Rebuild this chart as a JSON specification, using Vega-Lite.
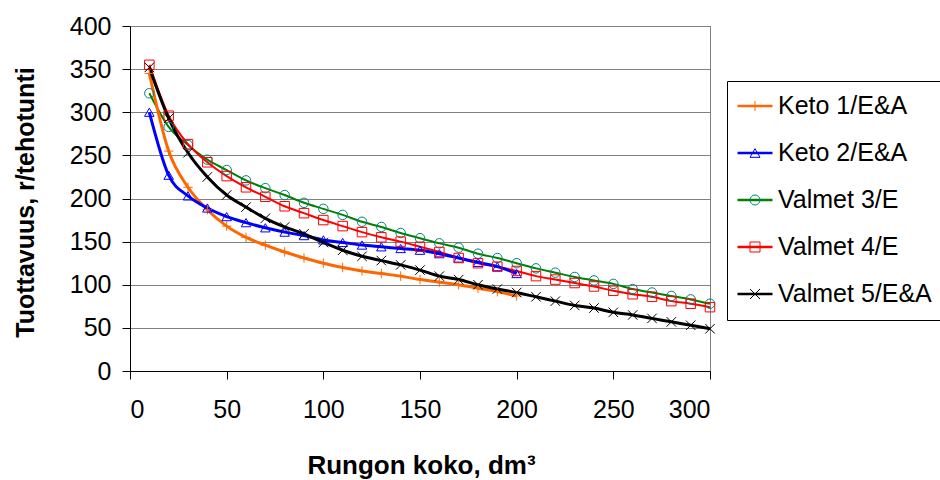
{
  "$schema": "https://vega.github.io/schema/vega-lite/v6.json",
  "width": 580,
  "height": 345,
  "autosize": "none",
  "padding": {"left": 130, "top": 26, "right": 230, "bottom": 109},
  "background": "white",
  "config": {
    "font": "Liberation Sans",
    "view": {"stroke": "#808080", "strokeWidth": 1},
    "axis": {
      "labelFont": "Liberation Sans",
      "labelFontSize": 25,
      "labelColor": "#000000",
      "titleFont": "Liberation Sans",
      "titleFontSize": 25,
      "titleFontWeight": "bold",
      "titleColor": "#000000",
      "domainColor": "#000000",
      "tickColor": "#000000",
      "tickSize": 8
    },
    "legend": {
      "labelFont": "Liberation Sans",
      "labelFontSize": 25,
      "labelColor": "#000000",
      "labelLimit": 400
    }
  },
  "datasets": {
    "pts": [
      {"series": "Keto 1/E&A", "x": 10, "y": 345}, {"series": "Keto 1/E&A", "x": 20, "y": 255}, {"series": "Keto 1/E&A", "x": 30, "y": 213}, {"series": "Keto 1/E&A", "x": 40, "y": 187}, {"series": "Keto 1/E&A", "x": 50, "y": 168}, {"series": "Keto 1/E&A", "x": 60, "y": 155}, {"series": "Keto 1/E&A", "x": 70, "y": 146}, {"series": "Keto 1/E&A", "x": 80, "y": 138}, {"series": "Keto 1/E&A", "x": 90, "y": 131}, {"series": "Keto 1/E&A", "x": 100, "y": 125}, {"series": "Keto 1/E&A", "x": 110, "y": 120}, {"series": "Keto 1/E&A", "x": 120, "y": 116}, {"series": "Keto 1/E&A", "x": 130, "y": 113}, {"series": "Keto 1/E&A", "x": 140, "y": 110}, {"series": "Keto 1/E&A", "x": 150, "y": 106}, {"series": "Keto 1/E&A", "x": 160, "y": 103}, {"series": "Keto 1/E&A", "x": 170, "y": 100}, {"series": "Keto 1/E&A", "x": 180, "y": 96}, {"series": "Keto 1/E&A", "x": 190, "y": 92}, {"series": "Keto 1/E&A", "x": 200, "y": 87},
      {"series": "Keto 2/E&A", "x": 10, "y": 300}, {"series": "Keto 2/E&A", "x": 20, "y": 227}, {"series": "Keto 2/E&A", "x": 30, "y": 203}, {"series": "Keto 2/E&A", "x": 40, "y": 189}, {"series": "Keto 2/E&A", "x": 50, "y": 179}, {"series": "Keto 2/E&A", "x": 60, "y": 172}, {"series": "Keto 2/E&A", "x": 70, "y": 166}, {"series": "Keto 2/E&A", "x": 80, "y": 161}, {"series": "Keto 2/E&A", "x": 90, "y": 157}, {"series": "Keto 2/E&A", "x": 100, "y": 152}, {"series": "Keto 2/E&A", "x": 110, "y": 149}, {"series": "Keto 2/E&A", "x": 120, "y": 146}, {"series": "Keto 2/E&A", "x": 130, "y": 144}, {"series": "Keto 2/E&A", "x": 140, "y": 142}, {"series": "Keto 2/E&A", "x": 150, "y": 140}, {"series": "Keto 2/E&A", "x": 160, "y": 136}, {"series": "Keto 2/E&A", "x": 170, "y": 131}, {"series": "Keto 2/E&A", "x": 180, "y": 126}, {"series": "Keto 2/E&A", "x": 190, "y": 121}, {"series": "Keto 2/E&A", "x": 200, "y": 113},
      {"series": "Valmet 3/E", "x": 10, "y": 322}, {"series": "Valmet 3/E", "x": 20, "y": 283}, {"series": "Valmet 3/E", "x": 30, "y": 262}, {"series": "Valmet 3/E", "x": 40, "y": 245}, {"series": "Valmet 3/E", "x": 50, "y": 233}, {"series": "Valmet 3/E", "x": 60, "y": 221}, {"series": "Valmet 3/E", "x": 70, "y": 212}, {"series": "Valmet 3/E", "x": 80, "y": 204}, {"series": "Valmet 3/E", "x": 90, "y": 195}, {"series": "Valmet 3/E", "x": 100, "y": 188}, {"series": "Valmet 3/E", "x": 110, "y": 181}, {"series": "Valmet 3/E", "x": 120, "y": 173}, {"series": "Valmet 3/E", "x": 130, "y": 167}, {"series": "Valmet 3/E", "x": 140, "y": 160}, {"series": "Valmet 3/E", "x": 150, "y": 154}, {"series": "Valmet 3/E", "x": 160, "y": 148}, {"series": "Valmet 3/E", "x": 170, "y": 143}, {"series": "Valmet 3/E", "x": 180, "y": 136}, {"series": "Valmet 3/E", "x": 190, "y": 131}, {"series": "Valmet 3/E", "x": 200, "y": 125}, {"series": "Valmet 3/E", "x": 210, "y": 119}, {"series": "Valmet 3/E", "x": 220, "y": 114}, {"series": "Valmet 3/E", "x": 230, "y": 109}, {"series": "Valmet 3/E", "x": 240, "y": 105}, {"series": "Valmet 3/E", "x": 250, "y": 101}, {"series": "Valmet 3/E", "x": 260, "y": 95}, {"series": "Valmet 3/E", "x": 270, "y": 91}, {"series": "Valmet 3/E", "x": 280, "y": 87}, {"series": "Valmet 3/E", "x": 290, "y": 83}, {"series": "Valmet 3/E", "x": 300, "y": 78},
      {"series": "Valmet 4/E", "x": 10, "y": 355}, {"series": "Valmet 4/E", "x": 20, "y": 296}, {"series": "Valmet 4/E", "x": 30, "y": 263}, {"series": "Valmet 4/E", "x": 40, "y": 242}, {"series": "Valmet 4/E", "x": 50, "y": 226}, {"series": "Valmet 4/E", "x": 60, "y": 213}, {"series": "Valmet 4/E", "x": 70, "y": 202}, {"series": "Valmet 4/E", "x": 80, "y": 191}, {"series": "Valmet 4/E", "x": 90, "y": 183}, {"series": "Valmet 4/E", "x": 100, "y": 175}, {"series": "Valmet 4/E", "x": 110, "y": 168}, {"series": "Valmet 4/E", "x": 120, "y": 161}, {"series": "Valmet 4/E", "x": 130, "y": 155}, {"series": "Valmet 4/E", "x": 140, "y": 150}, {"series": "Valmet 4/E", "x": 150, "y": 144}, {"series": "Valmet 4/E", "x": 160, "y": 138}, {"series": "Valmet 4/E", "x": 170, "y": 131}, {"series": "Valmet 4/E", "x": 180, "y": 125}, {"series": "Valmet 4/E", "x": 190, "y": 121}, {"series": "Valmet 4/E", "x": 200, "y": 116}, {"series": "Valmet 4/E", "x": 210, "y": 110}, {"series": "Valmet 4/E", "x": 220, "y": 106}, {"series": "Valmet 4/E", "x": 230, "y": 102}, {"series": "Valmet 4/E", "x": 240, "y": 98}, {"series": "Valmet 4/E", "x": 250, "y": 93}, {"series": "Valmet 4/E", "x": 260, "y": 89}, {"series": "Valmet 4/E", "x": 270, "y": 86}, {"series": "Valmet 4/E", "x": 280, "y": 81}, {"series": "Valmet 4/E", "x": 290, "y": 78}, {"series": "Valmet 4/E", "x": 300, "y": 74},
      {"series": "Valmet 5/E&A", "x": 10, "y": 352}, {"series": "Valmet 5/E&A", "x": 20, "y": 293}, {"series": "Valmet 5/E&A", "x": 30, "y": 253}, {"series": "Valmet 5/E&A", "x": 40, "y": 225}, {"series": "Valmet 5/E&A", "x": 50, "y": 204}, {"series": "Valmet 5/E&A", "x": 60, "y": 190}, {"series": "Valmet 5/E&A", "x": 70, "y": 177}, {"series": "Valmet 5/E&A", "x": 80, "y": 167}, {"series": "Valmet 5/E&A", "x": 90, "y": 159}, {"series": "Valmet 5/E&A", "x": 100, "y": 149}, {"series": "Valmet 5/E&A", "x": 110, "y": 140}, {"series": "Valmet 5/E&A", "x": 120, "y": 133}, {"series": "Valmet 5/E&A", "x": 130, "y": 128}, {"series": "Valmet 5/E&A", "x": 140, "y": 123}, {"series": "Valmet 5/E&A", "x": 150, "y": 117}, {"series": "Valmet 5/E&A", "x": 160, "y": 110}, {"series": "Valmet 5/E&A", "x": 170, "y": 106}, {"series": "Valmet 5/E&A", "x": 180, "y": 100}, {"series": "Valmet 5/E&A", "x": 190, "y": 95}, {"series": "Valmet 5/E&A", "x": 200, "y": 91}, {"series": "Valmet 5/E&A", "x": 210, "y": 86}, {"series": "Valmet 5/E&A", "x": 220, "y": 81}, {"series": "Valmet 5/E&A", "x": 230, "y": 76}, {"series": "Valmet 5/E&A", "x": 240, "y": 73}, {"series": "Valmet 5/E&A", "x": 250, "y": 68}, {"series": "Valmet 5/E&A", "x": 260, "y": 65}, {"series": "Valmet 5/E&A", "x": 270, "y": 61}, {"series": "Valmet 5/E&A", "x": 280, "y": 57}, {"series": "Valmet 5/E&A", "x": 290, "y": 53}, {"series": "Valmet 5/E&A", "x": 300, "y": 49}
    ]
  },
  "data": {"name": "pts"},
  "encoding": {
    "x": {
      "field": "x", "type": "quantitative",
      "scale": {"domain": [0, 300], "nice": false},
      "axis": {
        "values": [0, 50, 100, 150, 200, 250, 300],
        "grid": false,
        "labelPadding": 18,
        "title": "Rungon koko, dm³",
        "titleFontSize": 26,
        "titleX": 291, "titleY": 102, "titleBaseline": "alphabetic", "titleAlign": "center"
      }
    },
    "y": {
      "field": "y", "type": "quantitative",
      "scale": {"domain": [0, 400], "nice": false},
      "axis": {
        "values": [0, 50, 100, 150, 200, 250, 300, 350, 400],
        "grid": true, "gridColor": "#808080", "gridWidth": 1, "gridOpacity": 1,
        "labelPadding": 11,
        "title": "Tuottavuus, r/tehotunti",
        "titleX": -97, "titleY": 176, "titleAngle": -90, "titleBaseline": "alphabetic", "titleAlign": "center"
      }
    }
  },
  "layer": [
    {
      "transform": [{"filter": "datum.series === 'Valmet 3/E' || datum.series === 'Valmet 4/E'"}],
      "mark": {"type": "line", "interpolate": "monotone", "strokeWidth": 2},
      "encoding": {
        "color": {
          "field": "series", "type": "nominal",
          "scale": {"domain": ["Keto 1/E&A", "Keto 2/E&A", "Valmet 3/E", "Valmet 4/E", "Valmet 5/E&A"], "range": ["#FF6600", "#0000FF", "#008000", "#FF0000", "#000000"]},
          "legend": {"title": null, "orient": "none", "direction": "vertical", "legendX": 597, "legendY": 55, "padding": 12.5, "symbolOffset": 3, "labelOffset": 10.5, "rowPadding": 21, "symbolSize": 100, "symbolType": "M-3.5,0H3.5", "symbolStrokeWidth": 2.5, "strokeColor": "#000000", "fillColor": "#FFFFFF"}
        }
      }
    },
    {
      "transform": [{"filter": "datum.series !== 'Valmet 3/E' && datum.series !== 'Valmet 4/E'"}],
      "mark": {"type": "line", "interpolate": "monotone", "strokeWidth": 3},
      "encoding": {
        "color": {
          "field": "series", "type": "nominal",
          "scale": {"domain": ["Keto 1/E&A", "Keto 2/E&A", "Valmet 3/E", "Valmet 4/E", "Valmet 5/E&A"], "range": ["#FF6600", "#0000FF", "#008000", "#FF0000", "#000000"]},
          "legend": {"title": null, "orient": "none", "direction": "vertical", "legendX": 597, "legendY": 55, "padding": 12.5, "symbolOffset": 3, "labelOffset": 10.5, "rowPadding": 21, "symbolSize": 100, "symbolType": "M-3.5,0H3.5", "symbolStrokeWidth": 2.5, "strokeColor": "#000000", "fillColor": "#FFFFFF"}
        }
      }
    },
    {
      "mark": {"type": "point", "filled": false, "size": 90, "strokeWidth": 1, "opacity": 1},
      "encoding": {
        "stroke": {
          "field": "series", "type": "nominal",
          "scale": {"range": ["#FF6600", "#0000FF", "#008080", "#FF0000", "#000000"]},
          "legend": {"title": null, "orient": "none", "direction": "vertical", "legendX": 597, "legendY": 55, "padding": 12.5, "symbolOffset": 3, "labelOffset": 10.5, "rowPadding": 21, "symbolSize": 100, "symbolStrokeWidth": 1, "labelOpacity": 0}
        },
        "shape": {
          "field": "series", "type": "nominal",
          "scale": {"range": ["M-1,0H1M0,-1V1", "triangle-up", "circle", "square", "M-1,-1L1,1M-1,1L1,-1"]},
          "legend": {"title": null, "orient": "none", "direction": "vertical", "legendX": 597, "legendY": 55, "padding": 12.5, "symbolOffset": 3, "labelOffset": 10.5, "rowPadding": 21, "symbolSize": 100, "symbolStrokeWidth": 1, "labelOpacity": 0}
        }
      }
    }
  ]
}
